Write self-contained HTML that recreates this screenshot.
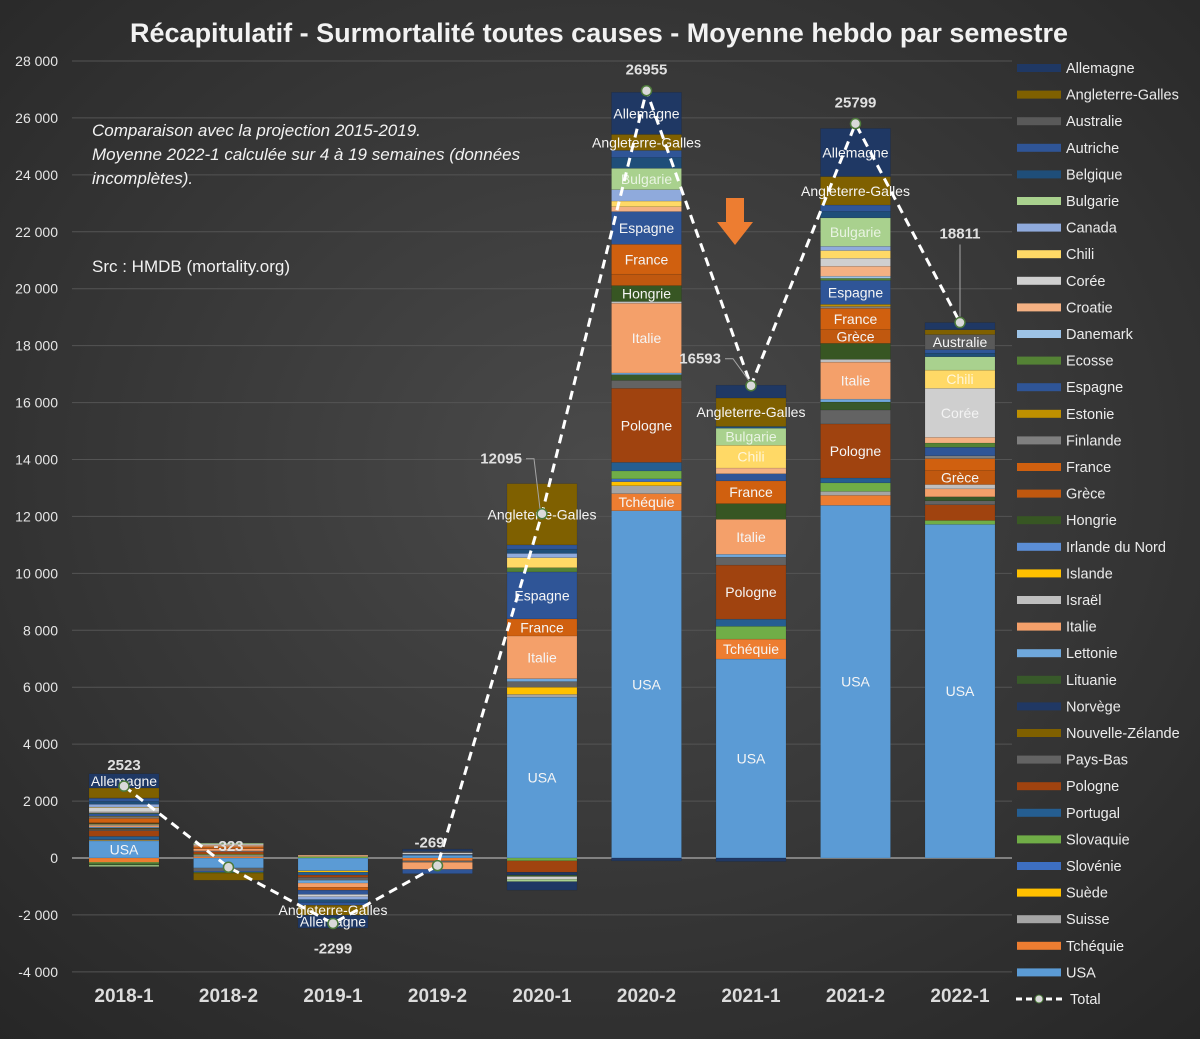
<!DOCTYPE html>
<html><head><meta charset="utf-8">
<style>
html,body{margin:0;padding:0;background:#2e2e2e;}
svg{display:block;font-family:"Liberation Sans",sans-serif;}
</style></head>
<body>
<svg id="chart" width="1200" height="1039" viewBox="0 0 1200 1039" xmlns="http://www.w3.org/2000/svg">
<defs>
<radialGradient id="bg" cx="50%" cy="45%" r="75%">
<stop offset="0" stop-color="#4a4a4a"/><stop offset="1" stop-color="#262626"/>
</radialGradient>
</defs>
<rect width="1200" height="1039" fill="url(#bg)"/>
<text x="130" y="42" font-size="27" font-weight="bold" fill="#f2f2f2" textLength="938" lengthAdjust="spacingAndGlyphs">Récapitulatif - Surmortalité toutes causes - Moyenne hebdo par semestre</text>
<g id="grid"></g>
<g id="bars"></g>
<g id="labels"></g>
<g id="line"></g>
<g font-size="17" fill="#f2f2f2">
<text x="92" y="136" font-style="italic">Comparaison avec la projection 2015-2019.</text>
<text x="92" y="160" font-style="italic">Moyenne 2022-1 calculée sur 4 à 19 semaines (données</text>
<text x="92" y="184" font-style="italic">incomplètes).</text>
<text x="92" y="272">Src : HMDB (mortality.org)</text>
</g>
<path d="M726,198 H744 V222 H753 L735,245 L717,222 H726 Z" fill="#ed7d31"/>
<g id="legend"></g>
</svg>
<script>
const categories=["2018-1","2018-2","2019-1","2019-2","2020-1","2020-2","2021-1","2021-2","2022-1"];
const totals=[2523,-323,-2299,-269,12095,26955,16593,25799,18811];
const seriesNames=["USA","Tchéquie","Suisse","Suède","Slovénie","Slovaquie","Portugal","Pologne","Pays-Bas","Nouvelle-Zélande","Norvège","Lituanie","Lettonie","Italie","Israël","Islande","Irlande du Nord","Hongrie","Grèce","France","Finlande","Estonie","Espagne","Ecosse","Danemark","Croatie","Corée","Chili","Canada","Bulgarie","Belgique","Autriche","Australie","Angleterre-Galles","Allemagne"];
const seriesColors=["#5b9bd5","#ed7d31","#a5a5a5","#ffc000","#3d6fc2","#70ad47","#255e91","#a0430f","#636363","#7f6000","#203864","#38592a","#6fa8dc","#f4a06a","#bfbfbf","#ffc000","#5b8ed6","#375623","#c0580f","#d0600f","#7f7f7f","#bf9000","#2f5597","#548235","#9dc3e6","#f4b183","#cfcfcf","#ffd966","#8faadc","#a9d18e","#1f4e79","#2f5597","#595959","#7f6000","#1f3864"];
const v2018_1=[600,-150,20,20,20,-50,100,200,50,30,20,-50,30,50,20,20,20,20,20,150,50,20,100,20,20,20,150,20,100,-50,100,100,20,350,500];
const v2018_2=[-350,50,50,0,0,30,0,100,-50,0,0,0,20,80,0,0,0,0,20,50,-50,0,-50,-30,0,50,40,0,0,30,0,0,0,-250,0];
const v2019_1=[-450,0,0,-50,0,50,-100,-80,-100,0,0,0,-100,-150,0,0,0,0,0,-100,0,0,-150,0,0,50,-80,0,-100,0,-100,-100,0,-350,-450];
const v2019_2=[100,-100,0,0,0,0,0,0,-50,0,30,0,0,-250,0,0,0,0,0,0,0,0,-150,0,0,0,50,0,0,0,0,0,50,0,80];
const v2020_1=[5650,0,100,250,0,-100,0,-400,200,0,-100,-50,100,1500,0,0,0,0,0,600,0,0,1650,150,0,0,-100,350,150,-80,150,150,0,2150,-300];
const v2020_2=[12200,600,280,140,100,280,300,2600,280,0,-100,200,60,2450,60,0,0,560,400,1050,0,0,1150,0,0,170,0,200,400,750,380,250,0,560,1480];
const v2021_1=[6990,700,0,0,0,450,250,1900,280,0,-120,0,100,1230,0,0,0,550,0,800,0,0,250,0,0,200,0,800,0,600,60,0,0,1000,450];
const v2021_2=[12390,350,140,0,0,300,170,1900,490,0,0,280,100,1300,100,0,0,560,490,740,70,70,840,75,75,350,280,270,150,1000,225,225,0,1000,1690];
const v2022_1=[11720,0,0,0,0,140,0,550,140,0,0,140,0,280,150,0,0,0,490,420,100,0,300,150,0,200,1720,640,0,470,125,125,530,170,250];
const catValues=[v2018_1,v2018_2,v2019_1,v2019_2,v2020_1,v2020_2,v2021_1,v2021_2,v2022_1];
const yTicks=[-4000,-2000,0,2000,4000,6000,8000,10000,12000,14000,16000,18000,20000,22000,24000,26000,28000];
const segLabelCats=[0,0,2,2,4,4,4,4,4,5,5,5,5,5,5,5,5,5,5,6,6,6,6,6,6,6,6,7,7,7,7,7,7,7,7,7,8,8,8,8,8];
const segLabelSeries=["Allemagne","USA","Angleterre-Galles","Allemagne","Angleterre-Galles","Espagne","France","Italie","USA","Allemagne","Angleterre-Galles","Bulgarie","Espagne","France","Hongrie","Italie","Pologne","Tchéquie","USA","Angleterre-Galles","Bulgarie","Chili","France","Italie","Pologne","Tchéquie","USA","Allemagne","Angleterre-Galles","Bulgarie","Espagne","France","Grèce","Italie","Pologne","USA","Australie","Chili","Corée","Grèce","USA"];

const NS="http://www.w3.org/2000/svg";
const X0=72,X1=1012,Y0=858,PX=797/28000;
const y=v=>Y0-v*PX;
const xc=i=>124+i*104.5;
const BW=70;
function mk(tag,attrs,parent,text){const e=document.createElementNS(NS,tag);for(const k in attrs)e.setAttribute(k,attrs[k]);if(text!==undefined)e.textContent=text;parent.appendChild(e);return e;}
const grid=document.getElementById('grid');
yTicks.forEach(t=>{
  const l=mk('line',{x1:X0,x2:X1,y1:y(t),y2:y(t),stroke:t===0?'#9a9a9a':'#545454','stroke-width':t===0?1.5:1},grid);
  
  
  const s=t.toLocaleString('fr-FR').replace(/[\u202f\u00a0]/g,' ');
  const tx=mk('text',{x:58,y:y(t)+5,'text-anchor':'end','font-size':14,fill:'#e6e6e6'},grid,s);
  
  
});
categories.forEach((c,i)=>{
  const tx=mk('text',{x:xc(i),y:1002,'text-anchor':'middle','font-size':19,'font-weight':'bold',fill:'#dcdcdc'},grid,c);
  
  
});
const bars=document.getElementById('bars');
const segPos={};
catValues.forEach((vals,i)=>{
  let pos=0,neg=0;
  vals.forEach((v,s)=>{
    if(!v)return;
    let a,b;
    if(v>0){a=pos;b=pos+v;pos=b;}else{a=neg;b=neg+v;neg=b;}
    const top=y(Math.max(a,b)),h=Math.abs(y(a)-y(b));
    const r=mk('rect',{x:xc(i)-BW/2,y:top,width:BW,height:Math.max(h,0.5),fill:seriesColors[s],stroke:'rgba(0,0,0,0.18)','stroke-width':0.5},bars);
    
    
    segPos[i+'|'+seriesNames[s]]=(y(a)+y(b))/2;
  });
});
const labels=document.getElementById('labels');
segLabelCats.forEach((ci,k)=>{
  const nm=segLabelSeries[k];const cy=segPos[ci+'|'+nm];if(cy===undefined)return;
  const light=["Bulgarie","Chili","Corée"].includes(nm);
  const t=mk('text',{x:xc(ci),y:cy+5,'text-anchor':'middle','font-size':14,fill:light?'rgba(255,255,255,0.75)':'#f5f5f5'},labels,nm);
  
  
});
const line=document.getElementById('line');
const pts=totals.map((t,i)=>[xc(i),y(t)]);
const pl=mk('polyline',{points:pts.map(p=>p.join(',')).join(' '),fill:'none',stroke:'#ffffff','stroke-width':3,'stroke-dasharray':'9 6'},line);


const lblOff=[[0,-16,'middle'],[0,-16,'middle'],[0,30,'middle'],[-8,-18,'middle'],[-20,-50,'end'],[0,-16,'middle'],[-30,-22,'end'],[0,-16,'middle'],[0,-84,'middle']];
totals.forEach((t,i)=>{
  const c=mk('circle',{cx:pts[i][0],cy:pts[i][1],r:5,fill:'#d9d9d9',stroke:'#4c7a3a','stroke-width':1.5},line);
  
  
  const o=lblOff[i];
  if(i===4||i===6||i===8){
    const lx=o[2]==='end'?pts[i][0]+o[0]+4:pts[i][0];
    const ln=mk('polyline',{points:(i===8?`${pts[i][0]},${pts[i][1]+o[1]+6} ${pts[i][0]},${pts[i][1]-6}`:`${lx},${pts[i][1]+o[1]-5} ${lx+8},${pts[i][1]+o[1]-5} ${pts[i][0]-2},${pts[i][1]-5}`),fill:'none',stroke:'#a6a6a6','stroke-width':1},line);
    
    
  }
  const tx=mk('text',{x:pts[i][0]+o[0],y:pts[i][1]+o[1],'text-anchor':o[2],'font-size':15,'font-weight':'bold',fill:'#e0e0e0'},line,String(t));
  
  
});
const legend=document.getElementById('legend');
const legNames=seriesNames.slice().reverse(),legColors=seriesColors.slice().reverse();
legNames.forEach((n,k)=>{
  const yy=68+k*26.6;
  const r=mk('rect',{x:1017,y:yy-4,width:44,height:8,fill:legColors[k]},legend);
  
  
  const t=mk('text',{x:1066,y:yy+5,'font-size':14.5,fill:'#ececec'},legend,n);
  
  
});
const ly=68+35*26.6;
const tl=mk('line',{x1:1016,x2:1062,y1:ly,y2:ly,stroke:'#fff','stroke-width':3,'stroke-dasharray':'6 4'},legend);


const tc=mk('circle',{cx:1039,cy:ly,r:4,fill:'#d9d9d9',stroke:'#4c7a3a'},legend);


const tt=mk('text',{x:1070,y:ly+5,'font-size':14.5,fill:'#ececec'},legend,'Total');


</script>
</body></html>
